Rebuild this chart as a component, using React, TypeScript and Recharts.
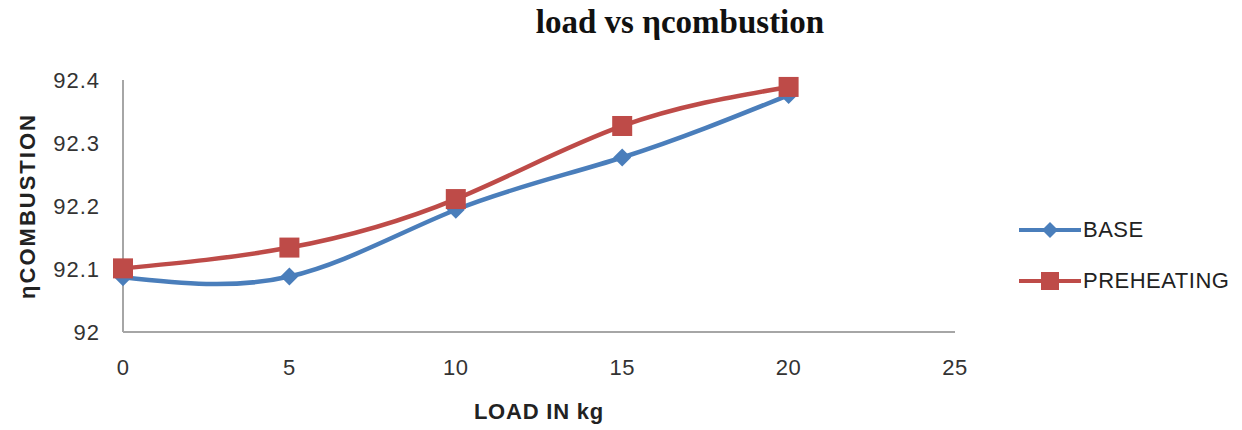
import { LineChart, Line, XAxis, YAxis, Legend } from "recharts";

const loads = [0, 5, 10, 15, 20];
const baseValues = [92.087, 92.088, 92.194, 92.277, 92.376];
const preheatingValues = [92.101, 92.134, 92.211, 92.327, 92.389];
const xTicks = [0, 5, 10, 15, 20, 25];
const yTicks = [92, 92.1, 92.2, 92.3, 92.4];

const BLUE = "#4a7ebb";
const RED = "#be4b48";
const AXIS = "#a6a6a6";
const FONT = "'Liberation Sans', Arial, sans-serif";

const data = loads.map((load, i) => ({
  load,
  base: baseValues[i],
  preheating: preheatingValues[i],
}));

const Diamond = ({ cx, cy }: any) => {
  if (cx == null || cy == null) return null;
  const r = 9;
  return <polygon points={`${cx},${cy - r} ${cx + r},${cy} ${cx},${cy + r} ${cx - r},${cy}`} fill={BLUE} />;
};

const Square = ({ cx, cy }: any) => {
  if (cx == null || cy == null) return null;
  const s = 20;
  return <rect x={cx - s / 2} y={cy - s / 2} width={s} height={s} fill={RED} />;
};

const LegendContent = () => (
  <div style={{ fontFamily: FONT, fontSize: 22, letterSpacing: 0.5, color: "#222" }}>
    {[
      { name: "BASE", color: BLUE, marker: "diamond" },
      { name: "PREHEATING", color: RED, marker: "square" },
    ].map((item) => (
      <div key={item.name} style={{ display: "flex", alignItems: "center", height: 51 }}>
        <svg width={62} height={22}>
          <line x1={0} y1={11} x2={62} y2={11} stroke={item.color} strokeWidth={4} />
          {item.marker === "diamond" ? (
            <polygon points="31,3 39,11 31,19 23,11" fill={item.color} />
          ) : (
            <rect x={22} y={2} width={18} height={18} fill={item.color} />
          )}
        </svg>
        <span style={{ marginLeft: 2 }}>{item.name}</span>
      </div>
    ))}
  </div>
);

const YLabel = ({ viewBox }: any) => {
  const cy = viewBox.y + viewBox.height / 2;
  return (
    <text x={27} y={cy} transform={`rotate(-90, 27, ${cy})`} textAnchor="middle" dominantBaseline="central"
      fontFamily={FONT} fontSize={22} letterSpacing={2} fontWeight="bold" fill="#222">
      ηCOMBUSTION
    </text>
  );
};

const XLabel = ({ viewBox }: any) => {
  const cx = viewBox.x + viewBox.width / 2;
  return (
    <text x={cx} y={411} textAnchor="middle" dominantBaseline="central"
      fontFamily={FONT} fontSize={22} letterSpacing={0.8} fontWeight="bold" fill="#222">
      LOAD IN kg
    </text>
  );
};

export default function App() {
  return (
    <div style={{ position: "absolute", left: 0, top: 0, width: 1242, height: 430, background: "#fff" }}>
      <div style={{ position: "absolute", left: 0, top: 4, width: 1360, textAlign: "center", fontFamily: "'Liberation Serif', 'Times New Roman', serif", fontWeight: "bold", fontSize: 33, color: "#111" }}>
        load vs ηcombustion
      </div>
      <LineChart width={1242} height={430} data={data} margin={{ top: 80, right: 287, bottom: 38, left: 23 }}>
        <XAxis
          dataKey="load"
          type="number"
          domain={[0, 25]}
          ticks={xTicks}
          height={60}
          axisLine={{ stroke: AXIS, strokeWidth: 2 }}
          tickLine={false}
          tickSize={0}
          tickMargin={27}
          tick={{ fontSize: 22, fill: "#333", fontFamily: FONT, letterSpacing: 0.5 }}
          label={<XLabel />}
        />
        <YAxis
          type="number"
          domain={[92, 92.4]}
          ticks={yTicks}
          width={100}
          axisLine={{ stroke: AXIS, strokeWidth: 2 }}
          tickLine={false}
          tickSize={0}
          tickMargin={23}
          tick={{ fontSize: 22, fill: "#333", fontFamily: FONT, letterSpacing: 1 }}
          tickFormatter={(v) => String(Math.round(v * 10) / 10)}
          label={<YLabel />}
        />
        <Legend
          layout="vertical"
          align="center"
          verticalAlign="middle"
          content={<LegendContent />}
          wrapperStyle={{ position: "absolute", left: 1019, top: 204, width: 223 }}
        />
        <Line type="natural" dataKey="base" name="BASE" stroke={BLUE} strokeWidth={4.5} dot={<Diamond />} activeDot={false} isAnimationActive={false} />
        <Line type="natural" dataKey="preheating" name="PREHEATING" stroke={RED} strokeWidth={4.5} dot={<Square />} activeDot={false} isAnimationActive={false} />
      </LineChart>
    </div>
  );
}
